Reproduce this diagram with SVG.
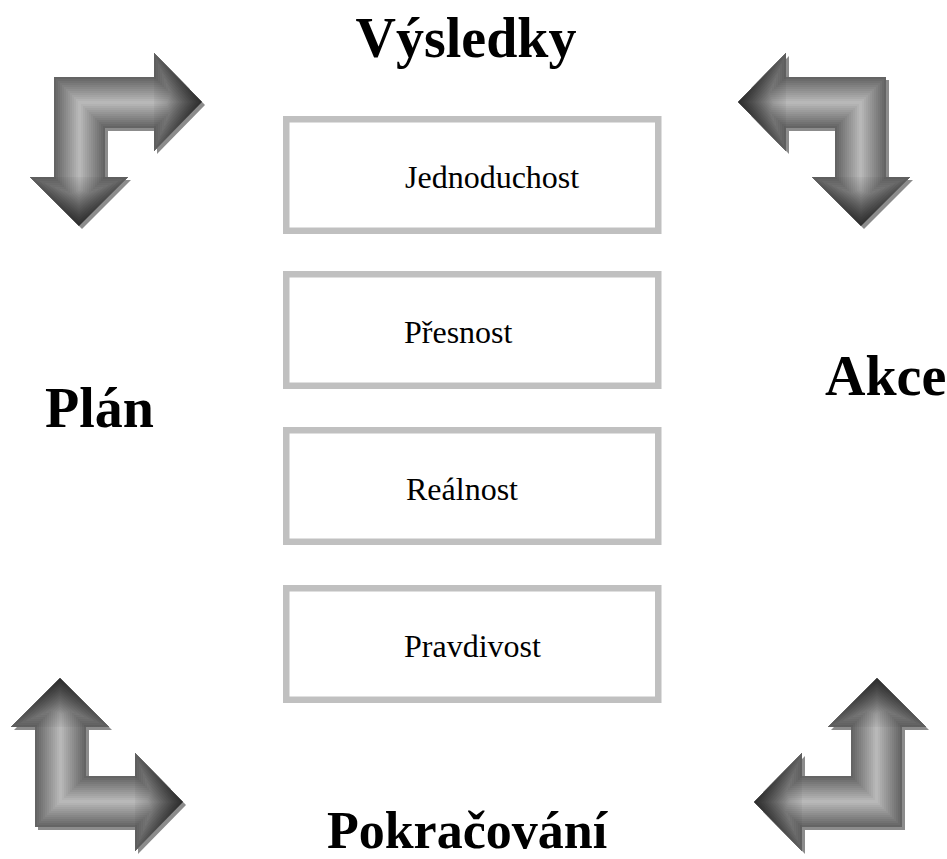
<svg xmlns="http://www.w3.org/2000/svg" xmlns:xlink="http://www.w3.org/1999/xlink" width="947" height="859" viewBox="0 0 947 859">
<style>
.box{fill:#ffffff;stroke:#c0c0c0;stroke-width:6.5}
.lbl{font-family:"Liberation Serif","Times New Roman",serif;font-size:32px;fill:#000}
.big{font-family:"Liberation Serif","Times New Roman",serif;font-size:56px;font-weight:bold;fill:#000}
.shadow{fill:#8c8c8c}
.band{fill:none;stroke-linejoin:miter}
</style>
<defs>
<path id="arr" d="M54,77 L154,77 L154,53 L202,102 L154,151 L154,128 L105,128 L105,177 L128,177 L79,226 L30,177 L54,177 Z"/>
<clipPath id="clipArr"><use xlink:href="#arr"/></clipPath>
<linearGradient id="gR" gradientUnits="userSpaceOnUse" x1="150" y1="0" x2="202" y2="0">
<stop offset="0" stop-color="#000" stop-opacity="0"/>
<stop offset="1" stop-color="#000" stop-opacity="0.55"/>
</linearGradient>
<linearGradient id="gD" gradientUnits="userSpaceOnUse" x1="0" y1="173" x2="0" y2="226">
<stop offset="0" stop-color="#000" stop-opacity="0"/>
<stop offset="1" stop-color="#000" stop-opacity="0.55"/>
</linearGradient>
<g id="arrFill" clip-path="url(#clipArr)">
<use xlink:href="#arr" fill="#b8b8b8"/>
<use xlink:href="#arr" class="band" stroke="#b2b2b2" stroke-width="48"/>
<use xlink:href="#arr" class="band" stroke="#aaaaaa" stroke-width="44"/>
<use xlink:href="#arr" class="band" stroke="#a3a3a3" stroke-width="40"/>
<use xlink:href="#arr" class="band" stroke="#9c9c9c" stroke-width="36"/>
<use xlink:href="#arr" class="band" stroke="#959595" stroke-width="32"/>
<use xlink:href="#arr" class="band" stroke="#8e8e8e" stroke-width="28"/>
<use xlink:href="#arr" class="band" stroke="#878787" stroke-width="24"/>
<use xlink:href="#arr" class="band" stroke="#808080" stroke-width="20"/>
<use xlink:href="#arr" class="band" stroke="#797979" stroke-width="16"/>
<use xlink:href="#arr" class="band" stroke="#727272" stroke-width="12"/>
<use xlink:href="#arr" class="band" stroke="#6b6b6b" stroke-width="8"/>
<use xlink:href="#arr" class="band" stroke="#646464" stroke-width="4"/>
<polygon points="154,53 202,102 154,151" fill="url(#gR)"/>
<polygon points="30,177 128,177 79,226" fill="url(#gD)"/>
</g>
</defs>

<g id="arrow-top-left">
<use xlink:href="#arr" class="shadow" transform="translate(3,3)"/>
<use xlink:href="#arrFill"/>
</g>
<g id="arrow-top-right">
<use xlink:href="#arr" class="shadow" transform="translate(3,3) matrix(-1 0 0 1 940 0)"/>
<use xlink:href="#arrFill" transform="matrix(-1 0 0 1 940 0)"/>
</g>
<g id="arrow-bottom-left">
<use xlink:href="#arr" class="shadow" transform="translate(3,3) matrix(1 0 0 -1 -19 904)"/>
<use xlink:href="#arrFill" transform="matrix(1 0 0 -1 -19 904)"/>
</g>
<g id="arrow-bottom-right">
<use xlink:href="#arr" class="shadow" transform="translate(3,3) matrix(-1 0 0 -1 956 904)"/>
<use xlink:href="#arrFill" transform="matrix(-1 0 0 -1 956 904)"/>
</g>

<g id="box-jednoduchost">
<rect class="box" x="286.25" y="119.25" width="372" height="111.5"/>
<text class="lbl" x="405" y="188">Jednoduchost</text>
</g>
<g id="box-presnost">
<rect class="box" x="286.25" y="274.25" width="372" height="111.5"/>
<text class="lbl" x="404" y="343">Přesnost</text>
</g>
<g id="box-realnost">
<rect class="box" x="286.25" y="430.25" width="372" height="111.5"/>
<text class="lbl" x="406" y="500">Reálnost</text>
</g>
<g id="box-pravdivost">
<rect class="box" x="286.25" y="588.25" width="372" height="111.5"/>
<text class="lbl" x="404" y="657">Pravdivost</text>
</g>

<g id="label-vysledky"><text class="big" x="466" y="57" text-anchor="middle">Výsledky</text></g>
<g id="label-plan"><text class="big" x="45" y="427">Plán</text></g>
<g id="label-akce"><text class="big" x="825" y="395">Akce</text></g>
<g id="label-pokracovani"><text class="big" x="467" y="848" text-anchor="middle" style="font-size:52px">Pokračování</text></g>
</svg>
